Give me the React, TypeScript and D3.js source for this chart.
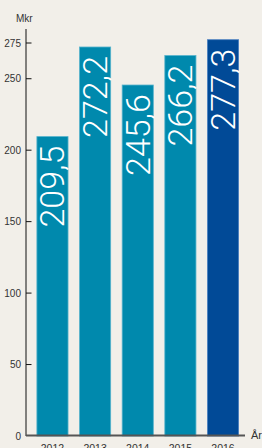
import React from "react";
import * as d3 from "d3";

const years = ["2012", "2013", "2014", "2015", "2016"];
const values = [209.5, 272.2, 245.6, 266.2, 277.3];
const labels = ["209,5", "272,2", "245,6", "266,2", "277,3"];
const yTicks = [0, 50, 100, 150, 200, 250, 275];

export default function App() {
  const W = 262, H = 448;
  const y = d3.scaleLinear().domain([0, 275]).range([436, 43]);
  const x = d3.scaleBand().domain(years).range([30.5, 245]).paddingInner(0.27).paddingOuter(0.15);
  const font = "'Liberation Sans', Arial, sans-serif";
  return (
    <svg width={W} height={H} style={{ position: "absolute", left: 0, top: 0, background: "#f2efe9" }}>
      <rect x={0} y={0} width={W} height={H} fill="#f2efe9" />
      {years.map((yr, i) => {
        const bx = x(yr)!;
        const bw = x.bandwidth();
        const top = y(values[i]);
        const fill = i === 4 ? "#014a97" : "#0089ad";
        const cx = bx + bw / 2;
        return (
          <g key={yr}>
            <rect x={bx} y={top} width={bw} height={436 - top} fill={fill} stroke={i === 4 ? "#4a7fc0" : "#55b3cc"} strokeWidth={0.8} />
            <text
              transform={`translate(${cx + 12},${top + 9}) rotate(-90)`}
              textAnchor="end"
              fill="#ffffff"
              fontSize={34}
              fontWeight={300}
              fontFamily="Roboto, 'Liberation Sans', sans-serif"
            >
              {labels[i]}
            </text>
            <text x={cx} y={452} textAnchor="middle" fontSize={10.5} fill="#333" fontFamily={font}>{yr}</text>
          </g>
        );
      })}
      <line x1={26} x2={26} y1={29} y2={436} stroke="#111" strokeWidth={1} />
      <line x1={26} x2={245} y1={435.5} y2={435.5} stroke="#555" strokeWidth={1.8} />
      {yTicks.map((t) => (
        <g key={t}>
          {t > 0 && <line x1={26} x2={31.5} y1={y(t)} y2={y(t)} stroke="#111" strokeWidth={1} />}
          <text x={21} y={y(t) + 3.6} textAnchor="end" fontSize={10} fill="#333" fontFamily={font}>{t}</text>
        </g>
      ))}
      <text x={16} y={22} fontSize={10} fill="#333" fontFamily={font}>Mkr</text>
      <text x={251} y={439} fontSize={11} fill="#333" fontFamily={font}>År</text>
    </svg>
  );
}
